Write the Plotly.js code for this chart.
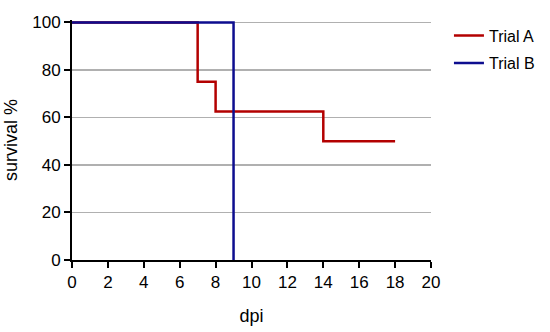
<!DOCTYPE html>
<html>
<head>
<meta charset="utf-8">
<script src="https://cdn.plot.ly/plotly-3.0.1.min.js"></script>
<style>
  html, body { margin: 0; padding: 0; background: #fff; }
  #chart { width: 550px; height: 332px; }
</style>
</head>
<body>
<div id="chart"></div>
<script>
// survival curves (Kaplan-Meier style steps)
var trialA_days = [0, 7, 8, 14, 18];
var trialA_surv = [100, 75, 62.5, 50, 50];
var trialB_days = [0, 9];
var trialB_surv = [100, 0];

var xTicks = [0, 2, 4, 6, 8, 10, 12, 14, 16, 18, 20];
var yTicks = [0, 20, 40, 60, 80, 100];

var fontFam = 'Liberation Sans, Arial, sans-serif';

var traceA = {
	x: trialA_days,
	y: trialA_surv,
	name: 'Trial A',
	type: 'scatter',
	mode: 'lines',
	line: { shape: 'hv', color: '#b30000', width: 2.5 },
	legend: 'legend'
};
var traceB = {
	x: trialB_days,
	y: trialB_surv,
	name: 'Trial B',
	type: 'scatter',
	mode: 'lines',
	line: { shape: 'hv', color: '#0d0d8f', width: 2.5 },
	legend: 'legend2'
};

var legendBase = {
	xref: 'paper', yref: 'paper',
	xanchor: 'left', yanchor: 'middle',
	font: { family: fontFam, size: 16, color: '#000' },
	bgcolor: 'rgba(0,0,0,0)'
};

var layout = {
	width: 550,
	height: 332,
	margin: { l: 72, r: 119, t: 20, b: 72, autoexpand: false },
	paper_bgcolor: '#fff',
	plot_bgcolor: '#fff',
	font: { family: fontFam, color: '#000' },
	showlegend: true,
	legend: Object.assign({}, legendBase, { x: 1.05, y: 0.935 }),
	legend2: Object.assign({}, legendBase, { x: 1.05, y: 0.82 }),
	xaxis: {
		range: [0, 20],
		tickvals: xTicks,
		ticktext: xTicks.map(String),
		showgrid: false,
		zeroline: false,
		showline: true,
		linecolor: '#000',
		linewidth: 2,
		ticks: 'outside',
		ticklen: 6,
		tickwidth: 2,
		tickcolor: '#000',
		tickfont: { family: fontFam, size: 17, color: '#000' },
		title: { text: 'dpi', font: { family: fontFam, size: 18, color: '#000' }, standoff: 18 },
		automargin: false,
		fixedrange: true
	},
	yaxis: {
		range: [0, 101],
		tickvals: yTicks,
		ticktext: yTicks.map(String),
		showgrid: true,
		gridcolor: '#b0b0b0',
		gridwidth: 1.3,
		zeroline: false,
		showline: true,
		linecolor: '#000',
		linewidth: 2,
		ticks: 'outside',
		ticklen: 6,
		tickwidth: 2,
		tickcolor: '#000',
		tickfont: { family: fontFam, size: 17, color: '#000' },
		title: { text: 'survival %', font: { family: fontFam, size: 18, color: '#000' }, standoff: 10 },
		automargin: false,
		fixedrange: true
	}
};

Plotly.newPlot('chart', [traceA, traceB], layout, { displayModeBar: false, staticPlot: true });
</script>
</body>
</html>
